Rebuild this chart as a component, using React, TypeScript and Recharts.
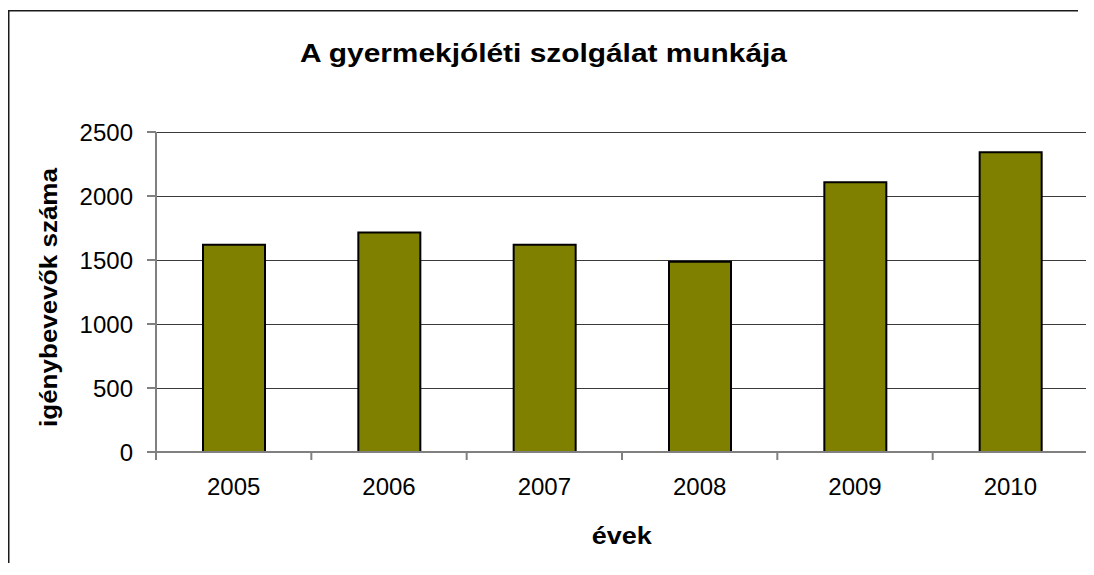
import { BarChart, Bar, XAxis, YAxis, CartesianGrid } from 'recharts'

const years = ['2005', '2006', '2007', '2008', '2009', '2010']
const clients = [1620, 1715, 1620, 1487, 2107, 2341]
const yTicks = [0, 500, 1000, 1500, 2000, 2500]

const data = years.map((year, i) => ({ year, value: clients[i] }))

const FONT = '"Liberation Sans", Arial, sans-serif'
const AXIS_GRAY = '#808080'
const TICK_SIZE = 8
const TICK_MARGIN = 18
const W = 1086
const H = 555

// category labels in the middle, tick marks on the band edges (like Excel)
const YearTick = (props: any) => {
  const { x, y, payload, index } = props
  const half = payload?.offset ?? 0
  const top = y - TICK_MARGIN - TICK_SIZE
  const bottom = y - TICK_MARGIN
  return (
    <g>
      <line x1={x - half} x2={x - half} y1={top} y2={bottom} stroke={AXIS_GRAY} strokeWidth={2} />
      {index === years.length - 1 && (
        <line x1={x + half} x2={x + half} y1={top} y2={bottom} stroke={AXIS_GRAY} strokeWidth={2} />
      )}
      <text x={x} y={y} dy="0.71em" textAnchor="middle" fontSize={24} fontFamily={FONT} fill="#000">
        {payload.value}
      </text>
    </g>
  )
}

export default function App() {
  return (
    <div style={{ position: 'relative', width: W, height: H, overflow: 'hidden' }}>
      <BarChart
        width={W}
        height={H}
        data={data}
        margin={{ top: 124, right: 6, bottom: 0, left: 0 }}
      >
        <CartesianGrid
          horizontal
          vertical={false}
          stroke="#3a3a3a"
          strokeWidth={1}
          shapeRendering="crispEdges"
        />
        <XAxis
          dataKey="year"
          height={111}
          axisLine={{ stroke: AXIS_GRAY, strokeWidth: 2 }}
          tickLine={false}
          tickSize={TICK_SIZE}
          tickMargin={TICK_MARGIN}
          tick={<YearTick />}
          interval={0}
        />
        <YAxis
          width={148}
          domain={[0, 2500]}
          ticks={yTicks}
          interval={0}
          axisLine={{ stroke: AXIS_GRAY, strokeWidth: 2 }}
          tickLine={{ stroke: AXIS_GRAY, strokeWidth: 2 }}
          tickSize={9}
          tickMargin={14}
          tick={{ fontSize: 24, fontFamily: FONT, fill: '#000' }}
        />
        <Bar
          dataKey="value"
          fill="#808000"
          stroke="#000"
          strokeWidth={2}
          barSize={62}
          isAnimationActive={false}
        />
      </BarChart>

      {/* title, axis titles and the chart frame (left and top edges only) */}
      <svg
        width={W}
        height={H}
        style={{ position: 'absolute', left: 0, top: 0, pointerEvents: 'none' }}
      >
        <line x1={0.75} x2={0.75} y1={2} y2={H} stroke="#1a1a1a" strokeWidth={1.5} />
        <line x1={0} x2={W - 16} y1={2.75} y2={2.75} stroke="#1a1a1a" strokeWidth={1.5} />
        <text
          x={535.5}
          y={53.7}
          textAnchor="middle"
          fontSize={26}
          fontWeight="bold"
          fontFamily={FONT}
          textLength={487}
          lengthAdjust="spacingAndGlyphs"
        >
          A gyermekjóléti szolgálat munkája
        </text>
        <text
          x={49}
          y={289.5}
          transform="rotate(-90 49 289.5)"
          textAnchor="middle"
          fontSize={24}
          fontWeight="bold"
          fontFamily={FONT}
          textLength={259}
          lengthAdjust="spacingAndGlyphs"
        >
          igénybevevők száma
        </text>
        <text
          x={613.7}
          y={536}
          textAnchor="middle"
          fontSize={24}
          fontWeight="bold"
          fontFamily={FONT}
          textLength={60}
          lengthAdjust="spacingAndGlyphs"
        >
          évek
        </text>
      </svg>
    </div>
  )
}
